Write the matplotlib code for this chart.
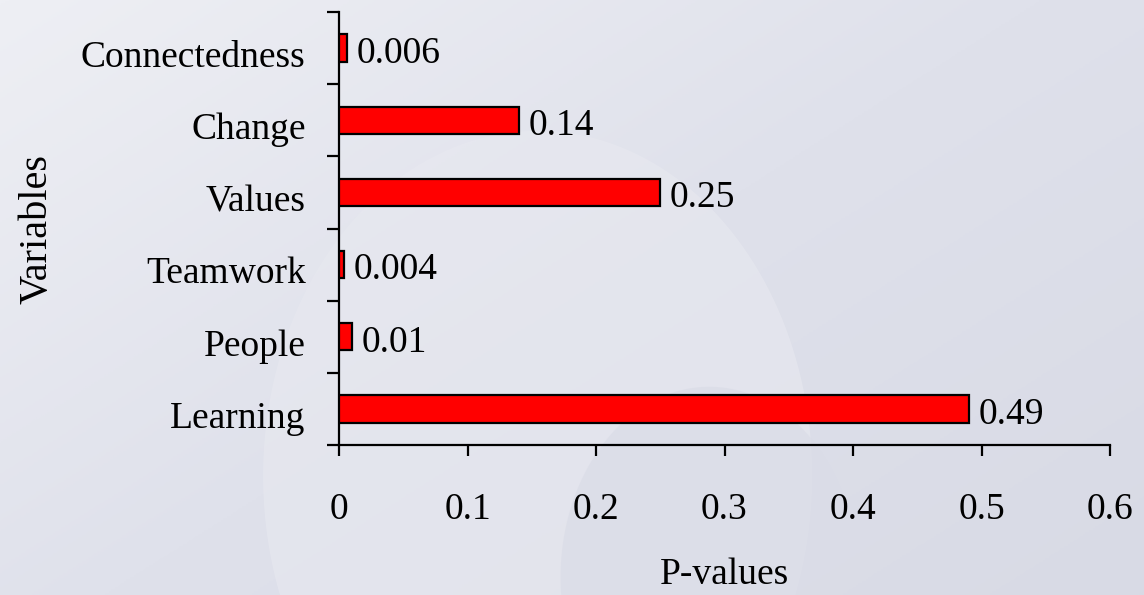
import matplotlib
matplotlib.use("Agg")
import matplotlib.pyplot as plt
import numpy as np
from matplotlib.colors import LinearSegmentedColormap
from matplotlib.transforms import ScaledTranslation

categories = ["Learning", "People", "Teamwork", "Values", "Change", "Connectedness"]
p_values = [0.49, 0.01, 0.004, 0.25, 0.14, 0.006]
value_labels = ["0.49", "0.01", "0.004", "0.25", "0.14", "0.006"]
x_ticks = [0, 0.1, 0.2, 0.3, 0.4, 0.5, 0.6]
x_tick_labels = ["0", "0.1", "0.2", "0.3", "0.4", "0.5", "0.6"]

plt.rcParams['font.family'] = ['Liberation Serif', 'DejaVu Serif']
FS = 27

fig = plt.figure(figsize=(11.44, 5.95), dpi=100)

# background gradient
bg = fig.add_axes([0, 0, 1, 1], zorder=-10)
bg.set_axis_off()
yy, xx = np.mgrid[0:1:300j, 0:1:600j]
grad = 0.55 * xx + 0.45 * yy
cmap = LinearSegmentedColormap.from_list("bgc", ["#EEEFF4", "#DFE1EB", "#D8DAE5"])
bg.imshow(grad, cmap=cmap, aspect='auto', extent=[0, 1, 1, 0], vmin=0, vmax=1)
bg.set_xlim(0, 1); bg.set_ylim(1, 0)
# faint swirl
theta = np.linspace(0, 2 * np.pi, 200)
bg.fill(0.47 + 0.24 * np.cos(theta), 0.80 + 0.58 * np.sin(theta), color="#E8E9F0", alpha=0.6, lw=0)
bg.fill(0.62 + 0.13 * np.cos(theta), 0.97 + 0.32 * np.sin(theta), color="#DADCE7", alpha=0.7, lw=0)

ax = fig.add_axes([339/1144, 1-445/595, (1110-339)/1144, (445-12)/595])
ax.patch.set_alpha(0)

y = np.arange(len(categories))
ax.barh(y, p_values, height=0.38, color="#FF0000", edgecolor="black", linewidth=1.6, zorder=3)
for yi, v, lab in zip(y, p_values, value_labels):
    ax.annotate(lab, (v, yi), xytext=(7, -4), textcoords="offset points",
                va="center", ha="left", fontsize=FS, color="black")

ax.set_xlim(0, 0.6)
ax.set_ylim(-0.5, len(categories) - 0.5)
ax.set_xticks(x_ticks)
ax.set_xticklabels(x_tick_labels, fontsize=FS)
ax.set_yticks(y)
ax.set_yticklabels(categories, fontsize=FS)
ax.set_yticks(np.arange(-0.5, len(categories)), minor=True)
ax.tick_params(axis='y', which='major', length=0, pad=24)
ax.tick_params(axis='y', which='minor', length=9, width=1.6, direction='out')
ax.tick_params(axis='x', which='major', length=8, width=1.6, direction='out', pad=26)

off = ScaledTranslation(0, -4/72, fig.dpi_scale_trans)
for lab in ax.get_yticklabels():
    lab.set_transform(lab.get_transform() + off)

for s in ["top", "right"]:
    ax.spines[s].set_visible(False)
for s in ["left", "bottom"]:
    ax.spines[s].set_linewidth(1.6)

ax.set_xlabel("P-values", fontsize=FS, labelpad=22)
ax.set_ylabel("Variables", fontsize=29, labelpad=18)

fig.savefig("out.png", dpi=100)
